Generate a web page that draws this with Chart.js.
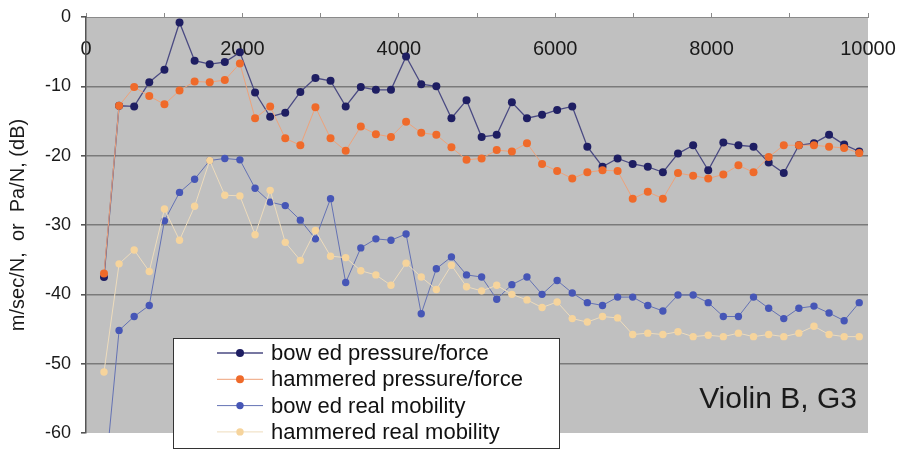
<!DOCTYPE html>
<html>
<head>
<meta charset="utf-8">
<script src="https://cdn.jsdelivr.net/npm/chart.js@4.4.1/dist/chart.umd.min.js"></script>
<style>
  html, body { margin: 0; padding: 0; background: #fff; }
  #wrap { width: 903px; height: 449px; }
</style>
</head>
<body>
<div id="wrap"><canvas id="chart" width="903" height="449"></canvas></div>
<script>
// frequencies (Hz) of the measured partials
const freqs = [230, 423, 616, 809, 1003, 1196, 1389, 1582, 1775, 1968,
  2162, 2355, 2548, 2741, 2934, 3127, 3321, 3514, 3707, 3900,
  4093, 4287, 4480, 4673, 4866, 5059, 5252, 5446, 5639, 5832,
  6025, 6218, 6411, 6605, 6798, 6991, 7184, 7377, 7570, 7764,
  7957, 8150, 8343, 8536, 8730, 8923, 9116, 9309, 9502, 9695, 9888];

const bowedPressure = [-37.5, -12.8, -12.9, -9.4, -7.6, -0.8, -6.3, -6.8, -6.5, -5.1,
  -10.9, -14.4, -13.8, -10.8, -8.8, -9.2, -12.9, -10.1, -10.5, -10.5,
  -5.7, -9.7, -10.0, -14.6, -12.0, -17.3, -17.0, -12.3, -14.6, -14.1,
  -13.4, -12.9, -18.7, -21.6, -20.4, -21.2, -21.6, -22.4, -19.7, -18.5,
  -22.1, -18.1, -18.5, -18.7, -21.0, -22.5, -18.5, -18.2, -17.0, -18.4, -19.4];

const hammeredPressure = [-37.0, -12.8, -10.1, -11.4, -12.6, -10.6, -9.3, -9.4, -9.1, -6.7,
  -14.6, -12.9, -17.5, -18.5, -13.0, -17.5, -19.3, -15.8, -16.9, -17.3,
  -15.1, -16.7, -17.0, -18.8, -20.6, -20.4, -19.2, -19.4, -18.2, -21.2,
  -22.2, -23.3, -22.4, -22.1, -22.2, -26.2, -25.2, -26.2, -22.5, -22.9,
  -23.3, -22.7, -21.4, -22.4, -20.2, -18.5, -18.5, -18.5, -18.7, -18.9, -19.6];

const bowedMobility = [-68.0, -45.2, -43.2, -41.6, -29.4, -25.3, -23.4, -20.7, -20.4, -20.6,
  -24.7, -26.7, -27.2, -29.3, -32.0, -26.2, -38.3, -33.3, -32.0, -32.2,
  -31.3, -42.8, -36.3, -34.6, -37.2, -37.5, -40.7, -38.6, -37.5, -40.0,
  -38.0, -39.8, -41.2, -41.6, -40.4, -40.4, -41.6, -42.4, -40.1, -40.1,
  -41.2, -43.2, -43.2, -40.4, -42.0, -43.5, -42.0, -41.7, -42.7, -43.8, -41.2];

const hammeredMobility = [-51.2, -35.6, -33.6, -36.7, -27.7, -32.2, -27.3, -20.7, -25.7, -25.8,
  -31.4, -25.0, -32.5, -35.1, -30.8, -34.5, -34.7, -36.6, -37.2, -38.7,
  -35.5, -37.5, -39.3, -35.8, -38.9, -39.5, -38.7, -40.0, -40.8, -41.9,
  -41.1, -43.5, -44.0, -43.2, -43.4, -45.8, -45.6, -45.8, -45.4, -46.1,
  -45.9, -46.1, -45.6, -46.1, -45.8, -46.1, -45.6, -44.6, -45.8, -46.1, -46.1];

const seriesNames = ['bow ed pressure/force', 'hammered pressure/force',
  'bow ed real mobility', 'hammered real mobility'];
const yTicks = [0, -10, -20, -30, -40, -50, -60];
const xLabelTicks = [0, 2000, 4000, 6000, 8000, 10000];

const FONT = "'Liberation Sans', Arial, sans-serif";

function pts(values) {
  return values.map((v, i) => ({ x: freqs[i], y: v }));
}

function series(label, values, line, dot, width, radius, order) {
  return {
    label: label,
    data: pts(values),
    borderColor: line,
    borderWidth: width,
    backgroundColor: dot,
    pointBackgroundColor: dot,
    pointBorderColor: dot,
    pointRadius: radius,
    pointBorderWidth: 0,
    tension: 0,
    order: order
  };
}

// gray plot area
const plotBg = {
  id: 'plotBg',
  beforeDraw(chart) {
    const { ctx, chartArea: a } = chart;
    ctx.save();
    ctx.fillStyle = '#c0c0c0';
    ctx.fillRect(a.left, a.top, a.right - a.left, a.bottom - a.top);
    ctx.restore();
  }
};

// boxed legend and the caption in the corner
const boxLegend = {
  id: 'boxLegend',
  afterDraw(chart) {
    const ctx = chart.ctx;
    ctx.save();
    ctx.font = '30px ' + FONT;
    ctx.fillStyle = '#1a1a1a';
    ctx.textAlign = 'right';
    ctx.textBaseline = 'alphabetic';
    ctx.fillText('Violin B, G3', 857, 408);

    ctx.fillStyle = '#fff';
    ctx.fillRect(173, 338, 387, 111);
    ctx.strokeStyle = '#333';
    ctx.lineWidth = 1;
    ctx.strokeRect(173.5, 338.5, 386, 110);

    ctx.font = '22px ' + FONT;
    ctx.textAlign = 'left';
    ctx.textBaseline = 'middle';
    chart.data.datasets.forEach((ds, i) => {
      const y = 353 + i * 26.3;
      ctx.strokeStyle = ds.borderColor;
      ctx.lineWidth = ds.borderWidth;
      ctx.beginPath();
      ctx.moveTo(217, y);
      ctx.lineTo(263, y);
      ctx.stroke();
      ctx.fillStyle = ds.pointBackgroundColor;
      ctx.beginPath();
      ctx.arc(240, y, ds.pointRadius, 0, Math.PI * 2);
      ctx.fill();
      ctx.fillStyle = '#111';
      ctx.fillText(seriesNames[i], 271, y + 1);
    });
    ctx.restore();
  }
};

new Chart(document.getElementById('chart'), {
  type: 'line',
  data: {
    datasets: [
      series(seriesNames[0], bowedPressure, '#4a4a82', '#1e1e62', 1.3, 4, 4),
      series(seriesNames[1], hammeredPressure, '#eea27a', '#ef6a2a', 1, 4, 3),
      series(seriesNames[2], bowedMobility, '#6472b4', '#4656b6', 1, 3.7, 2),
      series(seriesNames[3], hammeredMobility, '#eedcbc', '#f6d49c', 1, 3.7, 1)
    ]
  },
  options: {
    responsive: false,
    animation: false,
    layout: { padding: { top: 17, right: 35, bottom: 16, left: 0 } },
    plugins: {
      legend: { display: false },
      tooltip: { enabled: false }
    },
    scales: {
      x: {
        type: 'linear',
        position: { y: 0 },
        min: 0,
        max: 10000,
        afterFit: s => { s.height = 0; s.paddingLeft = 0; s.paddingRight = 0; },
        border: { display: true, color: '#8a8a8a', width: 1 },
        grid: { drawOnChartArea: false, drawTicks: true, tickLength: -5, tickColor: '#8a8a8a' },
        ticks: {
          stepSize: 1000,
          autoSkip: false,
          maxRotation: 0,
          padding: 25,
          color: '#1a1a1a',
          font: { family: FONT, size: 20 },
          callback: v => xLabelTicks.includes(v) ? String(v) : ''
        }
      },
      y: {
        min: -60,
        max: 0,
        afterFit: s => { s.width = 86; s.paddingTop = 0; s.paddingBottom = 0; },
        afterBuildTicks: s => { s.ticks = yTicks.map(v => ({ value: v })); },
        border: { display: true, color: '#555', width: 1.5 },
        grid: {
          color: c => (c.tick && (c.tick.value === 0 || c.tick.value === -60)) ? 'rgba(0,0,0,0)' : '#7a7a7a',
          lineWidth: 1.6,
          tickLength: 5,
          tickColor: '#555'
        },
        ticks: {
          padding: 10,
          color: '#1a1a1a',
          font: { family: FONT, size: 18 }
        },
        title: {
          display: true,
          text: 'm/sec/N,  or  Pa/N, (dB)',
          color: '#1a1a1a',
          font: { family: FONT, size: 20 },
          padding: { top: 6, bottom: 0 }
        }
      }
    }
  },
  plugins: [plotBg, boxLegend]
});
</script>
</body>
</html>
